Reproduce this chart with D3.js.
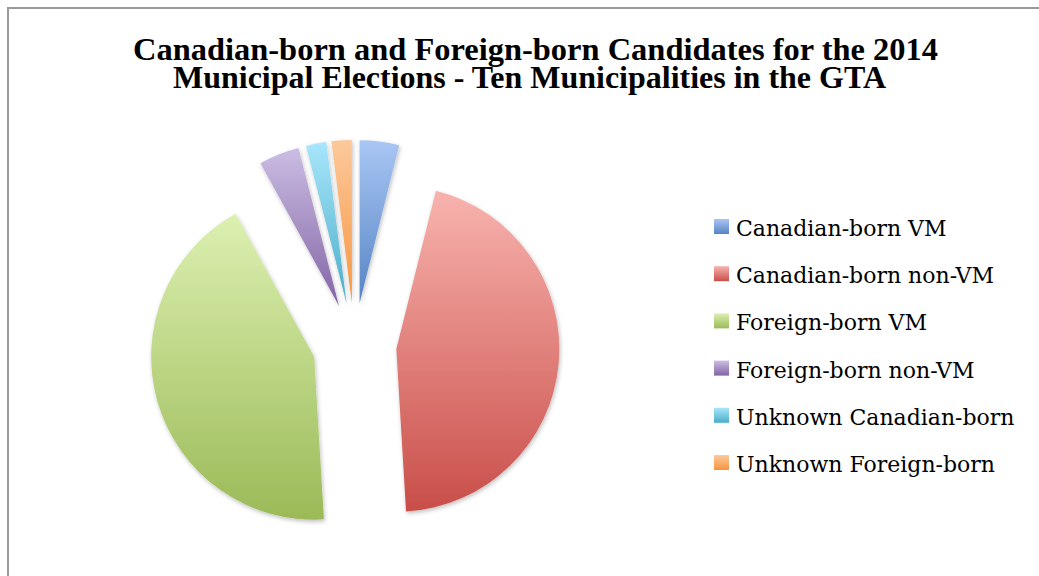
<!DOCTYPE html>
<html>
<head>
<meta charset="utf-8">
<script src="https://cdn.jsdelivr.net/npm/d3@7"></script>
<style>
  body { margin: 0; background: #fff; }
</style>
</head>
<body>
<div id="chart-area"></div>
<script>
var categories = ["Canadian-born VM", "Canadian-born non-VM", "Foreign-born VM",
  "Foreign-born non-VM", "Unknown Canadian-born", "Unknown Foreign-born"];
var shares = [3.9, 45.1, 42.9, 4.0, 2.0, 2.0];
var titleLines = ["Canadian-born and Foreign-born Candidates for the 2014",
  "Municipal Elections - Ten Municipalities in the GTA"];

// light top / dark bottom for each slice
var topColors = ["#a9c6f4", "#f8b3ae", "#dcf0b1", "#cbbde3", "#a8e6fb", "#fcc99c"];
var bottomColors = ["#5584c3", "#c94e49", "#9bba57", "#8264a4", "#4aadc9", "#f7953f"];

var outerWidth = 1039;
var outerHeight = 576;

var svg = d3.select("#chart-area")
  .append("svg")
  .attr("width", outerWidth)
  .attr("height", outerHeight);

var defs = svg.append("defs");

categories.forEach(function(c, i) {
  var grad = defs.append("linearGradient")
    .attr("id", "grad" + i)
    .attr("x1", 0).attr("y1", 0)
    .attr("x2", 0).attr("y2", 1);
  grad.append("stop").attr("offset", "0%").attr("stop-color", topColors[i]);
  grad.append("stop").attr("offset", "100%").attr("stop-color", bottomColors[i]);
});

var shadow = defs.append("filter")
  .attr("id", "shadow")
  .attr("x", "-20%").attr("y", "-20%")
  .attr("width", "140%").attr("height", "140%");
shadow.append("feDropShadow")
  .attr("dx", 1).attr("dy", 2)
  .attr("stdDeviation", 2)
  .attr("flood-color", "#000")
  .attr("flood-opacity", 0.25);

// frame
svg.append("path")
  .attr("d", "M8,576 L8,8 L1039,8")
  .attr("fill", "none")
  .attr("stroke", "#9a9a9a")
  .attr("stroke-width", 2);

// title (squeezed horizontally like the original)
var titleWidths = [805, 713];
var titleCenters = [535.5, 529.5];
svg.selectAll(".title")
  .data(titleLines)
  .enter()
  .append("text")
  .attr("class", "title")
  .attr("x", function(d, i) { return titleCenters[i]; })
  .attr("y", function(d, i) { return 60 + i * 28; })
  .attr("text-anchor", "middle")
  .style("font-family", "'Liberation Serif', 'Times New Roman', serif")
  .style("font-weight", "bold")
  .style("font-size", "31px")
  .attr("textLength", function(d, i) { return titleWidths[i]; })
  .attr("lengthAdjust", "spacingAndGlyphs")
  .attr("fill", "#000")
  .text(function(d) { return d; });

// pie
var cx = 354.5, cy = 345, radius = 163, explode = 42;

var pie = d3.pie().sort(null).value(function(d) { return d; });
var arc = d3.arc().innerRadius(0).outerRadius(radius);

var g = svg.append("g")
  .attr("transform", "translate(" + cx + "," + cy + ")");

g.selectAll("path.slice")
  .data(pie(shares))
  .enter()
  .append("path")
  .attr("class", "slice")
  .attr("d", arc)
  .attr("transform", function(d) {
    var a = (d.startAngle + d.endAngle) / 2;
    return "translate(" + (Math.sin(a) * explode) + "," + (-Math.cos(a) * explode) + ")";
  })
  .attr("fill", function(d, i) { return "url(#grad" + i + ")"; })
  .attr("filter", "url(#shadow)");

// legend
var legend = svg.append("g")
  .attr("transform", "translate(714,219)");

var items = legend.selectAll("g")
  .data(categories)
  .enter()
  .append("g")
  .attr("transform", function(d, i) { return "translate(0," + (i * 47.2) + ")"; });

items.append("rect")
  .attr("width", 15)
  .attr("height", 15)
  .attr("fill", function(d, i) { return "url(#grad" + i + ")"; });

items.append("text")
  .attr("x", 22)
  .attr("y", 17)
  .style("font-family", "'DejaVu Serif', serif")
  .style("font-size", "22px")
  .attr("fill", "#000")
  .text(function(d) { return d; });
</script>
</body>
</html>
